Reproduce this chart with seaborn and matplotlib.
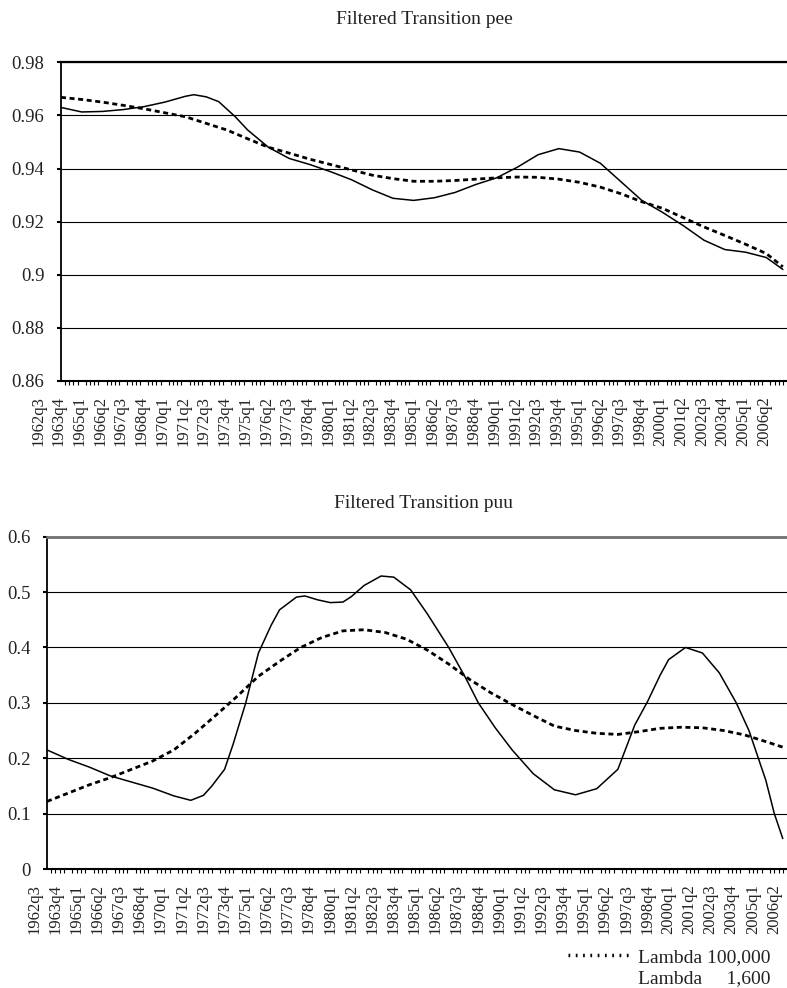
import numpy as np
import pandas as pd
import matplotlib
matplotlib.use("Agg")
import matplotlib.pyplot as plt
import matplotlib.transforms as mtransforms
from matplotlib.lines import Line2D
import seaborn as sns

# ---------------- data ----------------
tick_labels = ["1962q3", "1963q4", "1965q1", "1966q2", "1967q3", "1968q4", "1970q1", "1971q2",
               "1972q3", "1973q4", "1975q1", "1976q2", "1977q3", "1978q4", "1980q1", "1981q2",
               "1982q3", "1983q4", "1985q1", "1986q2", "1987q3", "1988q4", "1990q1", "1991q2",
               "1992q3", "1993q4", "1995q1", "1996q2", "1997q3", "1998q4", "2000q1", "2001q2",
               "2002q3", "2003q4", "2005q1", "2006q2"]
n_quarters = 175  # quarter index 0 = 1962q3

# quarter indices at which the smooth (lambda 100,000) series were read
smooth_idx = [0, 5, 10, 15, 20, 25, 30, 35, 40, 45, 50, 55, 60, 65, 70, 75, 80, 85, 90,
              95, 100, 105, 110, 115, 120, 125, 130, 135, 140, 145, 150, 155, 160, 165, 170, 174]

pee_lambda100000 = [0.9668, 0.966, 0.965, 0.9638, 0.9625, 0.961, 0.9595, 0.957, 0.9545, 0.9512,
                    0.948, 0.9458, 0.9435, 0.9415, 0.9395, 0.9375, 0.9362, 0.9352, 0.9352, 0.9355,
                    0.936, 0.9365, 0.9368, 0.9367, 0.936, 0.9348, 0.933, 0.9305, 0.9275, 0.925,
                    0.9215, 0.918, 0.9148, 0.9115, 0.908, 0.903]
puu_lambda100000 = [0.122, 0.137, 0.152, 0.165, 0.18, 0.195, 0.215, 0.245, 0.278, 0.312,
                    0.348, 0.375, 0.40, 0.418, 0.43, 0.432, 0.427, 0.415, 0.395, 0.37,
                    0.342, 0.318, 0.297, 0.277, 0.258, 0.25, 0.245, 0.243, 0.248, 0.254,
                    0.256, 0.255, 0.25, 0.242, 0.23, 0.22]

# quarter indices at which the lambda 1,600 series were read
pee_idx = [0, 5, 10, 15, 20, 25, 30, 32, 35, 38, 42, 45, 50, 55, 60, 65, 70, 75, 80, 85, 90,
           95, 100, 105, 110, 115, 120, 125, 130, 135, 140, 145, 150, 155, 160, 165, 170, 174]
pee_lambda1600 = [0.963, 0.9613, 0.9615, 0.9622, 0.9633, 0.965, 0.9672, 0.9678, 0.967, 0.9652,
                  0.9595, 0.9545, 0.948, 0.9438, 0.9415, 0.9388, 0.9358, 0.932, 0.9288, 0.928,
                  0.929, 0.931, 0.934, 0.9365, 0.9405, 0.9452, 0.9475, 0.9462, 0.942, 0.935,
                  0.928, 0.9235, 0.9185, 0.913, 0.9095, 0.9085, 0.9065, 0.902]

puu_idx = [0, 5, 10, 15, 20, 25, 30, 34, 37, 39, 42, 44, 47, 50, 53, 55, 59, 61, 64, 67, 70,
           72, 75, 79, 82, 86, 90, 95, 99, 102, 106, 110, 115, 120, 125, 130, 135, 139, 142,
           145, 147, 151, 155, 159, 163, 166, 170, 172, 174]
puu_lambda1600 = [0.215, 0.198, 0.184, 0.168, 0.157, 0.146, 0.132, 0.124, 0.133, 0.15,
                  0.18, 0.225, 0.30, 0.39, 0.44, 0.468, 0.491, 0.493, 0.486, 0.481, 0.482,
                  0.492, 0.512, 0.529, 0.527, 0.504, 0.46, 0.40, 0.345, 0.30, 0.255, 0.215,
                  0.172, 0.143, 0.134, 0.145, 0.18, 0.26, 0.302, 0.35, 0.378, 0.40, 0.39,
                  0.354, 0.30, 0.25, 0.16, 0.10, 0.055]

pee_yticks = [0.86, 0.88, 0.90, 0.92, 0.94, 0.96, 0.98]
pee_ylabels = ["0.86", "0.88", "0.9", "0.92", "0.94", "0.96", "0.98"]
puu_yticks = [0.0, 0.1, 0.2, 0.3, 0.4, 0.5, 0.6]
puu_ylabels = ["0", "0.1", "0.2", "0.3", "0.4", "0.5", "0.6"]

titles = ["Filtered Transition pee", "Filtered Transition puu"]
legend_labels = ["Lambda 100,000", "Lambda     1,600"]

# ---------------- style ----------------
sns.set_style("white")
plt.rcParams["font.family"] = ["Liberation Serif", "DejaVu Serif"]
plt.rcParams["text.color"] = "#222222"

W, H = 787, 988
DPI = 100
fig = plt.figure(figsize=(W / DPI, H / DPI), dpi=DPI)
fig.patch.set_facecolor("white")

def px_axes(left, top, right, bottom):
    return fig.add_axes([left / W, 1 - bottom / H, (right - left) / W, (bottom - top) / H])

ax1 = px_axes(61, 62.3, 787, 381)
ax2 = px_axes(47, 536.7, 787, 869)

dash_style = (0, (1.8, 1.3))

def draw(ax, sidx, solid, dashed, yticks, ylabels, label_dx_px, top_color, top_lw):
    df_d = pd.DataFrame({"q": smooth_idx, "v": dashed})
    df_s = pd.DataFrame({"q": sidx, "v": solid})
    sns.lineplot(data=df_d, x="q", y="v", ax=ax, color="black", lw=2.0,
                 linestyle=dash_style, solid_joinstyle="round")
    sns.lineplot(data=df_s, x="q", y="v", ax=ax, color="black", lw=1.1,
                 solid_joinstyle="round")
    ax.set_xlim(0, n_quarters - 1)
    ax.set_ylim(yticks[0], yticks[-1])
    ax.set_yticks(yticks)
    ax.set_yticklabels(ylabels, fontsize=13.5)
    ax.yaxis.grid(True, color="black", lw=0.8)
    ax.xaxis.grid(False)
    ax.set_xlabel("")
    ax.set_ylabel("")
    ax.spines["right"].set_visible(False)
    ax.spines["top"].set_color(top_color)
    ax.spines["top"].set_linewidth(top_lw)
    ax.spines["left"].set_color("black")
    ax.spines["left"].set_linewidth(1.3)
    ax.spines["bottom"].set_color("black")
    ax.spines["bottom"].set_linewidth(1.5)
    ax.tick_params(axis="y", which="major", left=True, length=3, width=1.5,
                   color="black", pad=9, labelcolor="#222222")
    ax.set_xticks(np.arange(0, 5 * len(tick_labels), 5))
    ax.set_xticklabels(tick_labels, rotation=90, fontsize=12)
    ax.set_xticks(np.arange(0, n_quarters), minor=True)
    ax.tick_params(axis="x", which="major", bottom=True, length=0, pad=11, labelcolor="#222222")
    ax.tick_params(axis="x", which="minor", bottom=True, length=3, width=0.8,
                   color="black", direction="out")
    off = mtransforms.ScaledTranslation(label_dx_px / DPI, 0, fig.dpi_scale_trans)
    for lbl in ax.get_xticklabels():
        lbl.set_transform(lbl.get_transform() + off)
    ax.set_facecolor("white")

draw(ax1, pee_idx, pee_lambda1600, pee_lambda100000, pee_yticks, pee_ylabels, -23, "black", 1.6)
draw(ax2, puu_idx, puu_lambda1600, puu_lambda100000, puu_yticks, puu_ylabels, -13, "#707070", 2.0)

fig.text(424 / W, 1 - 20 / H, titles[0], ha="center", va="center", fontsize=14)
fig.text(424 / W, 1 - 503 / H, titles[1], ha="center", va="center", fontsize=14)

handles = [Line2D([], [], color="black", lw=2.5, linestyle=(0, (0.5, 1.6))),
           Line2D([], [], color="none", lw=0)]
fig.legend(handles, legend_labels, loc="upper right",
           bbox_to_anchor=(770 / W, 1 - 948 / H), frameon=False, fontsize=14,
           handlelength=3.3, handletextpad=0.3, labelspacing=0.2,
           borderpad=0, borderaxespad=0)

fig.savefig("out.png", dpi=DPI, facecolor="white")
